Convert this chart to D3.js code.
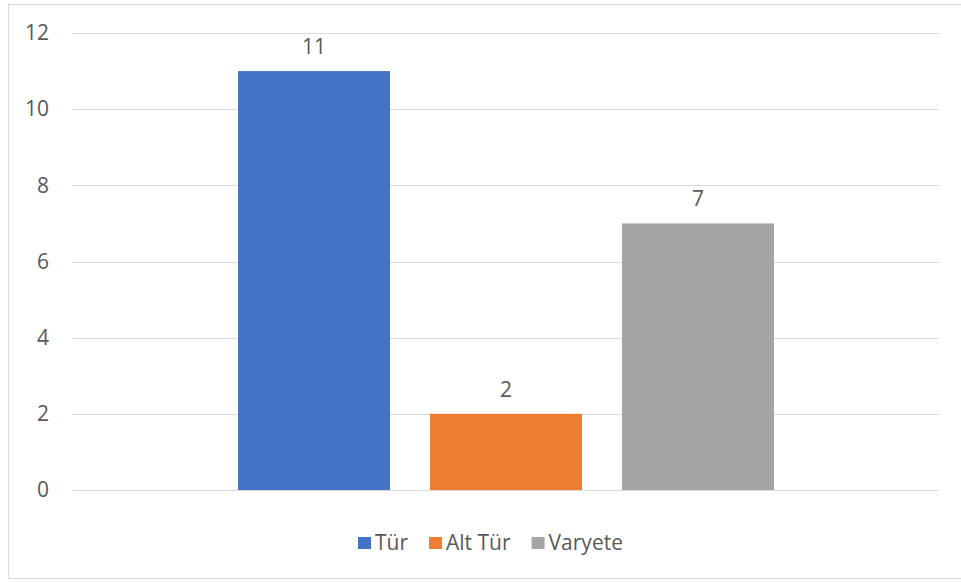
<!DOCTYPE html>
<html>
<head>
<meta charset="utf-8">
<script src="https://cdn.jsdelivr.net/npm/d3@7"></script>
<style>
	body { margin: 0; background: #fff; }
	text { font-family: "Open Sans", sans-serif; fill: #595959; }
</style>
</head>
<body>
<div id="chart"></div>
<script>
// data
var seriesNames = ["Tür", "Alt Tür", "Varyete"];
var seriesValues = [11, 2, 7];
var seriesColors = ["#4472C4", "#ED7D31", "#A5A5A5"];
var yTicks = [0, 2, 4, 6, 8, 10, 12];

var W = 961, H = 583;
var margin = { top: 33, right: 22, bottom: 93, left: 73 };
var width = W - margin.left - margin.right;
var height = H - margin.top - margin.bottom;
var fontSize = "21px";

var svg = d3.select("#chart")
	.append("svg")
	.attr("width", W)
	.attr("height", H);

// chart border
svg.append("rect")
	.attr("x", 8.5)
	.attr("y", 4.5)
	.attr("width", 970)
	.attr("height", 574)
	.attr("fill", "none")
	.attr("stroke", "#d9d9d9")
	.attr("stroke-width", 1);

var g = svg.append("g")
	.attr("transform", "translate(" + margin.left + "," + margin.top + ")");

//Scales
var y = d3.scaleLinear().domain([0, 12]).range([height, 0]);

// bars sit in the middle of the single category
var x = d3.scaleBand()
	.domain(seriesNames)
	.range([165, 701])
	.paddingInner(40 / 192)
	.paddingOuter(0);

//grid
g.selectAll(".grid")
	.data(yTicks)
	.enter()
	.append("line")
	.attr("x1", 0)
	.attr("x2", width)
	.attr("y1", function(d) { return Math.round(y(d)) + 0.5; })
	.attr("y2", function(d) { return Math.round(y(d)) + 0.5; })
	.attr("stroke", "#d9d9d9")
	.attr("stroke-width", 1);

//y axis labels
var yAxis = g.append("g")
	.call(d3.axisLeft(y).tickValues(yTicks).tickSize(0).tickPadding(24));
yAxis.select(".domain").remove();
yAxis.selectAll("text")
	.style("font-size", fontSize)
	.attr("fill", "#595959")
	.style("font-family", "'Open Sans', sans-serif");

//bars
var bars = g.selectAll(".bar")
	.data(seriesNames)
	.enter()
	.append("g")
	.attr("class", "bar");

bars.append("rect")
	.attr("x", function(d) { return x(d); })
	.attr("y", function(d, i) { return y(seriesValues[i]); })
	.attr("width", x.bandwidth())
	.attr("height", function(d, i) { return height - y(seriesValues[i]); })
	.attr("fill", function(d, i) { return seriesColors[i]; });

bars.append("text")
	.attr("x", function(d) { return x(d) + x.bandwidth() / 2; })
	.attr("y", function(d, i) { return y(seriesValues[i]) - 17; })
	.attr("text-anchor", "middle")
	.style("font-size", fontSize)
	.text(function(d, i) { return seriesValues[i]; });

//legend
var legend = svg.append("g");
var items = legend.selectAll(".item")
	.data(seriesNames)
	.enter()
	.append("g")
	.attr("class", "item");
items.append("rect")
	.attr("width", 13)
	.attr("height", 12)
	.attr("y", -6)
	.attr("fill", function(d, i) { return seriesColors[i]; });
items.append("text")
	.attr("x", 17)
	.attr("dy", "0.35em")
	.style("font-size", fontSize)
	.text(function(d) { return d; });

var pos = 0;
items.each(function() {
	var item = d3.select(this);
	item.attr("transform", "translate(" + pos + ",0)");
	pos += 17 + item.select("text").node().getComputedTextLength() + 21;
});
pos -= 21;
legend.attr("transform", "translate(" + Math.round(490 - pos / 2) + ",543)");
</script>
</body>
</html>
